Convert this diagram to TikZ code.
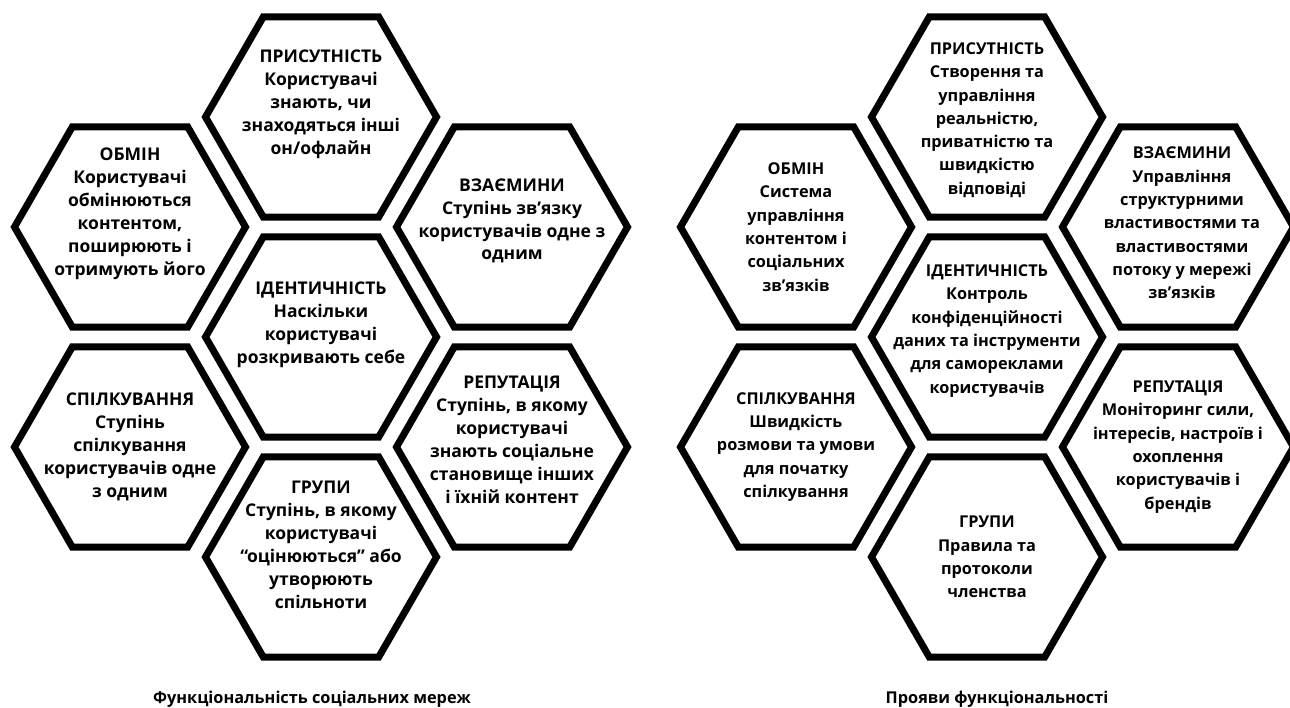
\documentclass[tikz,border=0pt]{standalone}
\usepackage{fontspec}
\setmainfont{Open Sans}
\usetikzlibrary{shapes.geometric, positioning}

\begin{document}
\begin{tikzpicture}[
        x=1pt, y=-1pt, node distance=220pt, on grid,
        hexcell/.style={regular polygon, regular polygon sides=6, minimum size=231pt,
                        inner sep=0pt, draw, line width=7pt},
        hextext/.style={align=center, inner sep=0pt,
                        font=\bfseries\fontsize{16.3}{23.3}\selectfont},
        bigtext/.style={hextext, font=\bfseries\fontsize{17.5}{22.9}\selectfont},
        figlabel/.style={anchor=base, inner sep=0pt,
                         font=\bfseries\fontsize{16.3}{20}\selectfont}
        ]
        \useasboundingbox (0,0) rectangle (1290,708);
        \clip (0,0) rectangle (1290,708);

        % left honeycomb
        \node[hexcell]  (lident) at (321,337)                       {};
        \node[hexcell]  (lpres)  [above=of lident]                  {};
        \node[hexcell]  (lgroup) [below=of lident]                  {};
        \node[hexcell]  (lshare) [above left=110pt and 191pt of lident]  {};
        \node[hexcell]  (lrel)   [above right=110pt and 191pt of lident] {};
        \node[hexcell]  (lconv)  [below left=110pt and 191pt of lident]  {};
        \node[hexcell]  (lrep)   [below right=110pt and 191pt of lident] {};

        % right honeycomb
        \node[hexcell]  (rident) at (987,337)                       {};
        \node[hexcell]  (rpres)  [above=of rident]                  {};
        \node[hexcell]  (rgroup) [below=of rident]                  {};
        \node[hexcell]  (rshare) [above left=110pt and 191pt of rident]  {};
        \node[hexcell]  (rrel)   [above right=110pt and 191pt of rident] {};
        \node[hexcell]  (rconv)  [below left=110pt and 191pt of rident]  {};
        \node[hexcell]  (rrep)   [below right=110pt and 191pt of rident] {};

        % texts, left
        \node[bigtext, yshift=13pt] (lpres-t)  at (lpres)  {ПРИСУТНІСТЬ\\Користувачі\\знають, чи\\знаходяться інші\\он/офлайн};
        \node[bigtext, yshift=13pt] (lshare-t) at (lshare) {ОБМІН\\Користувачі\\обмінюються\\контентом,\\поширюють і\\отримують його};
        \node[bigtext, yshift=6pt]  (lrel-t)   at (lrel)   {ВЗАЄМИНИ\\Ступінь зв’язку\\користувачів одне з\\одним};
        \node[bigtext, yshift=12pt] (lident-t) at (lident) {ІДЕНТИЧНІСТЬ\\Наскільки\\користувачі\\розкривають себе};
        \node[bigtext]              (lconv-t)  at (lconv)  {СПІЛКУВАННЯ\\Ступінь\\спілкування\\користувачів одне\\з одним};
        \node[bigtext, yshift=7pt]  (lrep-t)   at (lrep)   {РЕПУТАЦІЯ\\Ступінь, в якому\\користувачі\\знають соціальне\\становище інших\\і їхній контент};
        \node[bigtext, yshift=12pt] (lgroup-t) at (lgroup) {ГРУПИ\\Ступінь, в якому\\користувачі\\“оцінюються” або\\утворюють\\спільноти};

        % texts, right
        \node[hextext, yshift=-3pt] (rpres-t)  at (rpres)  {ПРИСУТНІСТЬ\\Створення та\\управління\\реальністю,\\приватністю та\\швидкістю\\відповіді};
        \node[hextext]              (rshare-t) at (rshare) {ОБМІН\\Система\\управління\\контентом і\\соціальних\\зв’язків};
        \node[hextext, xshift=4pt, yshift=4pt] (rrel-t) at (rrel) {ВЗАЄМИНИ\\Управління\\структурними\\властивостями та\\властивостями\\потоку у мережі\\зв’язків};
        \node[hextext, yshift=6pt]  (rident-t) at (rident) {ІДЕНТИЧНІСТЬ\\Контроль\\конфіденційності\\даних та інструменти\\для самореклами\\користувачів};
        \node[hextext]              (rconv-t)  at (rconv)  {СПІЛКУВАННЯ\\Швидкість\\розмови та умови\\для початку\\спілкування};
        \node[hextext]              (rrep-t)   at (rrep)   {РЕПУТАЦІЯ\\Моніторинг сили,\\інтересів, настроїв і\\охоплення\\користувачів і\\брендів};
        \node[hextext]              (rgroup-t) at (rgroup) {ГРУПИ\\Правила та\\протоколи\\членства};

        % captions
        \node[figlabel] (lcap) at (312,703) {Функціональність соціальних мереж};
        \node[figlabel] (rcap) at (997,703) {Прояви функціональності};
      \end{tikzpicture}
\end{document}
